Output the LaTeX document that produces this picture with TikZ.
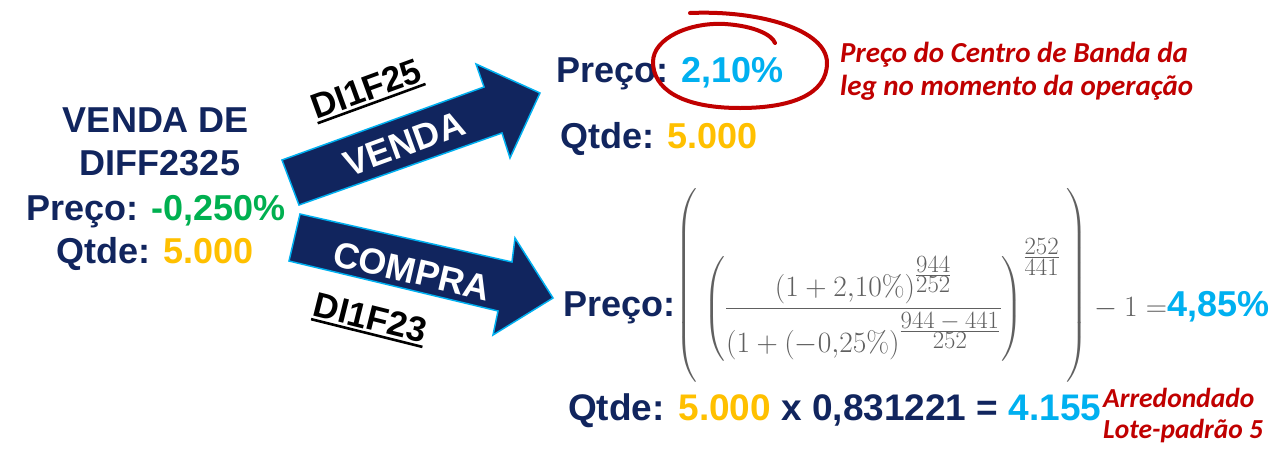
\RequirePackage{fix-cm}
\documentclass[tikz,border=0pt]{standalone}
\usepackage[no-math]{fontspec}
\setmainfont{Liberation Sans}
\newfontfamily\calfont{Carlito}
\usepackage{amsmath}
\usepackage{graphicx}
\definecolor{navy}{RGB}{17,37,94}
\definecolor{grn}{RGB}{0,176,80}
\definecolor{orng}{RGB}{255,192,0}
\definecolor{cyn}{RGB}{0,176,240}
\definecolor{redc}{RGB}{192,0,0}
\definecolor{mgrey}{RGB}{96,96,96}
\newcommand{\expfrac}[2]{\scalebox{0.84}{$\frac{\textstyle #1}{\textstyle #2}$}}
\newcommand{\thickul}[1]{{\setbox0\hbox{#1}\rlap{\rule[-5pt]{\wd0}{2.6pt}}\box0}}
\begin{document}
\begin{tikzpicture}[x=1pt,y=-1pt,
  main/.style={font=\bfseries\fontsize{36}{40}\selectfont, text=navy, inner sep=0pt},
  note/.style={font=\calfont\bfseries\itshape\fontsize{29}{32}\selectfont, text=redc, inner sep=0pt, anchor=base west},
  blockarrow/.style={fill=navy, draw=cyn, line width=1.5pt, line join=miter},
  arrowtext/.style={font=\bfseries\fontsize{36}{40}\selectfont, text=white, inner sep=0pt},
  leglabel/.style={font=\bfseries\fontsize{35}{38}\selectfont, text=black, inner sep=0pt}]
\useasboundingbox (0,0) rectangle (1270,448);
\fill[white] (0,0) rectangle (1270,448);

% left block
\node[main, anchor=base] (l1) at (156,132) {VENDA DE};
\node[main, anchor=base] (l2) at (160,175) {DIFF2325};
\node[main, anchor=base] (l3) at (156,220) {Preço: \textcolor{grn}{-0,250\%}};
\node[main, anchor=base] (l4) at (155,263) {Qtde: \textcolor{orng}{5.000}};

% block arrows
\coordinate (ua1) at (282,160); \coordinate (ua2) at (484,87); \coordinate (ua3) at (476,64);
\coordinate (ua4) at (540,93);  \coordinate (ua5) at (510,158); \coordinate (ua6) at (502,133);
\coordinate (ua7) at (299,205);
\draw[blockarrow] (ua1) -- (ua2) -- (ua3) -- (ua4) -- (ua5) -- (ua6) -- (ua7) -- cycle;
\coordinate (la1) at (300,214); \coordinate (la2) at (512,262); \coordinate (la3) at (515,238);
\coordinate (la4) at (553,298); \coordinate (la5) at (493,335); \coordinate (la6) at (498,311);
\coordinate (la7) at (289,261);
\draw[blockarrow] (la1) -- (la2) -- (la3) -- (la4) -- (la5) -- (la6) -- (la7) -- cycle;

\node[arrowtext, rotate=20] (tv) at (404,144) {VENDA};
\node[arrowtext, rotate=-13] (tc) at (412,271) {COMPRA};
\node[leglabel, rotate=20] (d25) at (367,91) {\thickul{DI1F25}};
\node[leglabel, rotate=-14] (d23) at (370,320) {\thickul{DI1F23}};

% upper right
\node[main, anchor=base west] (p1) at (556,82) {Preço: \textcolor{cyn}{2,10\%}};
\node[main, anchor=base west] (q1) at (560,148) {Qtde: \textcolor{orng}{5.000}};
\draw[redc, line width=4pt, line cap=round]
  (690,13) .. controls (760,10) and (827,30) .. (827,63)
  .. controls (827,95) and (790,108) .. (740,108)
  .. controls (680,108) and (653,88) .. (653,62)
  .. controls (653,38) and (690,22) .. (725,24)
  .. controls (755,26) and (772,35) .. (775,43);
\node[note] (n1) at (840,62) {Preço do Centro de Banda da};
\node[note] (n2) at (840,95) {leg no momento da operação};

% formula
\node[anchor=base west, inner sep=0pt] (p2) at (563,316) {%
  {\bfseries\fontsize{36}{40}\selectfont\color{navy}Preço:}%
  {\color{mgrey}\fontsize{29.5}{36}\selectfont
  $\raisebox{23pt}{$\left(\vrule height 105pt depth 89pt width 0pt\right.$}%
  \left(\dfrac{(1+2{,}10\%)^{\expfrac{944}{252}}}{(1+(-0{,}25\%)^{\expfrac{944-441}{252}}}\right)^{\expfrac{252}{441}}%
  \raisebox{23pt}{$\left.\vrule height 105pt depth 89pt width 0pt\right)$}-1=$}%
  {\bfseries\fontsize{36}{40}\selectfont\color{cyn}4,85\%}};

% bottom
\node[main, anchor=base west, font=\bfseries\fontsize{37}{40}\selectfont] (q2) at (568,420) {Qtde: \textcolor{orng}{5.000} x 0,831221 = \textcolor{cyn}{4.155}};
\node[note, font=\calfont\bfseries\itshape\fontsize{27.5}{30}\selectfont] (r1) at (1103,407) {Arredondado};
\node[note, font=\calfont\bfseries\itshape\fontsize{27.5}{30}\selectfont] (r2) at (1103,438) {Lote-padrão 5};
\end{tikzpicture}
\end{document}
